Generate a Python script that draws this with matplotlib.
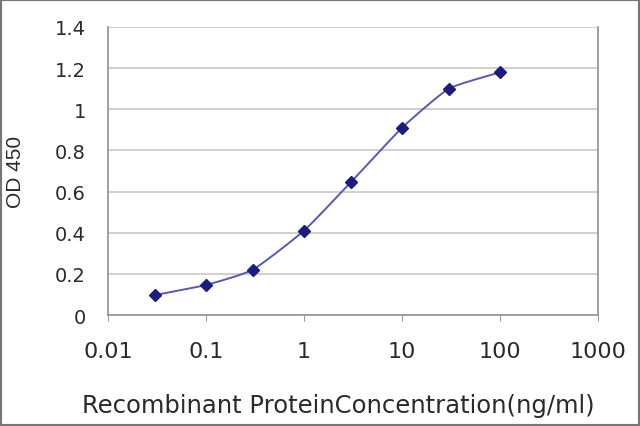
import numpy as np
import matplotlib
matplotlib.use("Agg")
import matplotlib.pyplot as plt
from matplotlib.patches import Rectangle

# concentration (ng/ml) and OD 450 readings
conc = [0.03, 0.1, 0.3, 1, 3, 10, 30, 100]
od450 = [0.097, 0.146, 0.22, 0.41, 0.645, 0.91, 1.10, 1.18]
yticks = [0, 0.2, 0.4, 0.6, 0.8, 1, 1.2, 1.4]
yticklabels = ["0", "0.2", "0.4", "0.6", "0.8", "1", "1.2", "1.4"]
xticks = [0.01, 0.1, 1, 10, 100, 1000]
xticklabels = ["0.01", "0.1", "1", "10", "100", "1000"]

plt.rcParams['font.family'] = ['DejaVu Sans']

fig = plt.figure(figsize=(6.4, 4.27), dpi=100)
ax = fig.add_axes([108 / 640, 1 - 316 / 427, 490 / 640, 288 / 427])


def smooth(xs, ys, n=30, k=0.5):
    # cardinal spline through the points, gentle smoothing like the original
    px, py = [], []
    xs = np.concatenate([[2 * xs[0] - xs[1]], xs, [2 * xs[-1] - xs[-2]]])
    ys = np.concatenate([[2 * ys[0] - ys[1]], ys, [2 * ys[-1] - ys[-2]]])
    for i in range(1, len(xs) - 2):
        for s in np.linspace(0, 1, n, endpoint=False):
            h00 = 2 * s**3 - 3 * s**2 + 1
            h10 = s**3 - 2 * s**2 + s
            h01 = -2 * s**3 + 3 * s**2
            h11 = s**3 - s**2
            for arr, out in ((xs, px), (ys, py)):
                m1 = k * 0.5 * (arr[i + 1] - arr[i - 1])
                m2 = k * 0.5 * (arr[i + 2] - arr[i])
                out.append(h00 * arr[i] + h10 * m1 + h01 * arr[i + 1] + h11 * m2)
    px.append(xs[-2]); py.append(ys[-2])
    return np.array(px), np.array(py)


cx, cy = smooth(np.log10(conc), np.array(od450))
ax.plot(10 ** cx, cy, color="#5858b8", lw=1.4, zorder=3)
ax.plot(conc, od450, ls="none", marker="D", ms=6.5, color="#1c1c80", zorder=4)

ax.set_xscale("log")
ax.set_xlim(0.01, 1000)
ax.set_ylim(0, 1.4)
ax.set_yticks(yticks)
ax.set_yticklabels(yticklabels, fontsize=14, color="#2a2a2a")
ax.set_xticks(xticks)
ax.set_xticklabels(xticklabels, fontsize=16, color="#2a2a2a")
ax.xaxis.set_minor_locator(matplotlib.ticker.NullLocator())
ax.tick_params(axis="y", length=0, pad=16)
ax.tick_params(axis="x", length=4, color="#999999", pad=15)

ax.grid(axis="y", color="#cccccc", lw=1.3)
ax.set_axisbelow(True)
for side in ("left", "right", "bottom"):
    ax.spines[side].set_color("#999999")
    ax.spines[side].set_linewidth(1.3)
ax.spines["top"].set_visible(False)

ax.set_ylabel("OD 450", fontsize=15, color="#2a2a2a",
              family="Liberation Sans")
ax.yaxis.set_label_coords(-83 / 490, 0.5)
ax.set_xlabel("Recombinant ProteinConcentration(ng/ml)", fontsize=17.5,
              color="#2a2a2a")
ax.xaxis.set_label_coords(0.47, -78 / 288)

fig.patches.append(Rectangle((0, 0), 1, 1, transform=fig.transFigure,
                             fill=False, edgecolor="#777777", lw=3))

fig.savefig("out.png", dpi=100)
